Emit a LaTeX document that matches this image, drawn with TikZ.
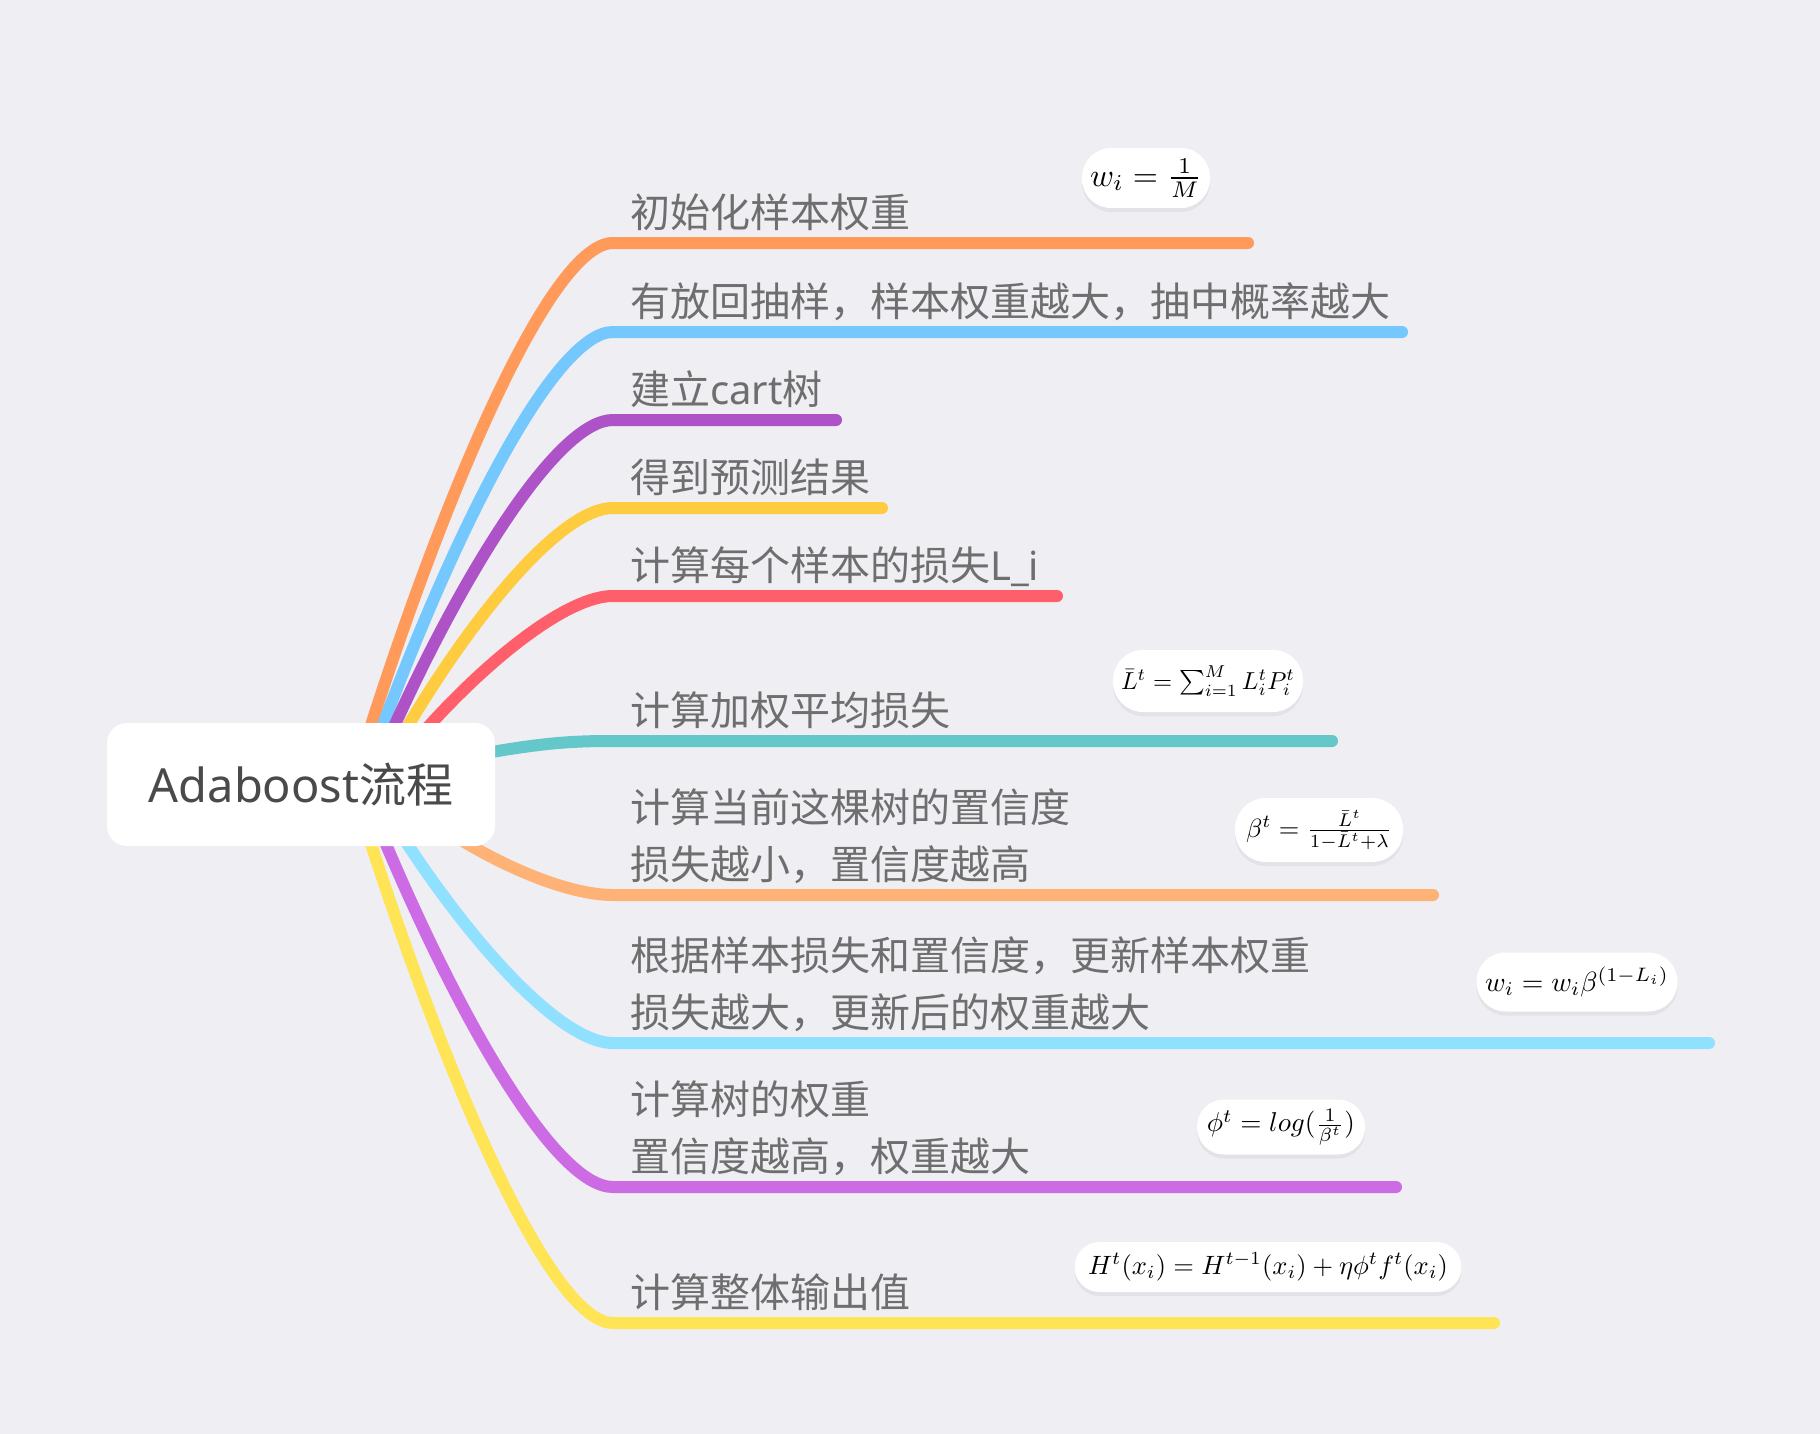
\documentclass[tikz,border=0pt]{standalone}
\usepackage[no-math]{fontspec}
\setmainfont{Noto Sans CJK SC}
\newfontfamily\latinf{Noto Sans}
\usetikzlibrary{calc,shadows}
\definecolor{bgc}{HTML}{EEEEF3}
\definecolor{lblc}{HTML}{6E6E6E}
\definecolor{rootc}{HTML}{4A4A4A}
\definecolor{ca}{HTML}{FF9A5B}
\definecolor{cb}{HTML}{74C8FE}
\definecolor{cc}{HTML}{AE52C7}
\definecolor{cd}{HTML}{FFCC3F}
\definecolor{ce}{HTML}{FF5F6B}
\definecolor{cf}{HTML}{64C7CA}
\definecolor{cg}{HTML}{FFB276}
\definecolor{ch}{HTML}{8FE1FF}
\definecolor{ci}{HTML}{CD6BE4}
\definecolor{cj}{HTML}{FFE556}
\pgfdeclarelayer{bglayer}
\pgfdeclarelayer{curves}
\pgfsetlayers{bglayer,curves,main}
\begin{document}
\begin{tikzpicture}[x=1pt,y=-1pt,
  br/.style={line width=12pt, line cap=round, line join=round},
  lbl/.style={anchor=base west, inner sep=0pt, font=\fontsize{40}{57}\selectfont, text=lblc, align=left},
  fbox/.style={fill=white, inner sep=0pt, drop shadow={shadow xshift=0pt, shadow yshift=-4pt, opacity=0.10}},
  rootbox/.style={fill=white, rounded corners=20pt, minimum width=388pt, minimum height=123pt, inner sep=0pt, text=rootc, font=\fontsize{47}{50}\selectfont}]
\useasboundingbox (0,0) rectangle (1820,1434);
\begin{pgfonlayer}{bglayer}
\fill[bgc] (0,0) rectangle (1820,1434);
\end{pgfonlayer}

\node[rootbox] (root) at (301,784.5) {{\latinf Adaboost}流程};

% exit points on the root
\coordinate (o1) at ($(root.north west)+(265,0)$);
\coordinate (o2) at ($(root.north west)+(277,0)$);
\coordinate (o3) at ($(root.north west)+(289,0)$);
\coordinate (o4) at ($(root.north west)+(303,0)$);
\coordinate (o5) at ($(root.north west)+(325,0)$);
\coordinate (o6) at ($(root.east)+(-35,-27)$);
\coordinate (o7) at ($(root.south east)+(-65,-26)$);
\coordinate (o8) at ($(root.south west)+(302,0)$);
\coordinate (o9) at ($(root.south west)+(280,0)$);
\coordinate (o10) at ($(root.south west)+(265,0)$);
% controls
\coordinate (k1) at (452,474);  \coordinate (m1) at (553,243);
\coordinate (k2) at (460,520);  \coordinate (m2) at (556,332);
\coordinate (k3) at (468,565);  \coordinate (m3) at (559,420);
\coordinate (k4) at (477,611);  \coordinate (m4) at (562,508);
\coordinate (k5) at (492,657);  \coordinate (m5) at (568,596);
\coordinate (k6) at (530,745);  \coordinate (m6) at (560,741);
\coordinate (k7) at (500,868);  \coordinate (m7) at (570,895);
\coordinate (k8) at (476,948);  \coordinate (m8) at (562,1043);
\coordinate (k9) at (462,1023); \coordinate (m9) at (556,1187);
\coordinate (k10) at (452,1094); \coordinate (m10) at (553,1323);
% branch starts and ends
\coordinate (b1) at (613,243);  \coordinate (e1) at (1248,243);
\coordinate (b2) at (613,332);  \coordinate (e2) at (1402,332);
\coordinate (b3) at (613,420);  \coordinate (e3) at (836,420);
\coordinate (b4) at (613,508);  \coordinate (e4) at (882,508);
\coordinate (b5) at (613,596);  \coordinate (e5) at (1057,596);
\coordinate (b6) at (610,741);  \coordinate (e6) at (1332,741);
\coordinate (b7) at (613,895);  \coordinate (e7) at (1433,895);
\coordinate (b8) at (613,1043); \coordinate (e8) at (1709,1043);
\coordinate (b9) at (613,1187); \coordinate (e9) at (1396,1187);
\coordinate (b10) at (613,1323); \coordinate (e10) at (1494,1323);

\begin{pgfonlayer}{curves}
\draw[br,ca] ($(o1)!-0.25!(k1)$) -- (o1) .. controls (k1) and (m1) .. (b1) -- (e1);
\draw[br,cb] ($(o2)!-0.25!(k2)$) -- (o2) .. controls (k2) and (m2) .. (b2) -- (e2);
\draw[br,cc] ($(o3)!-0.25!(k3)$) -- (o3) .. controls (k3) and (m3) .. (b3) -- (e3);
\draw[br,cd] ($(o4)!-0.25!(k4)$) -- (o4) .. controls (k4) and (m4) .. (b4) -- (e4);
\draw[br,ce] ($(o5)!-0.25!(k5)$) -- (o5) .. controls (k5) and (m5) .. (b5) -- (e5);
\draw[br,cf] (o6) .. controls (k6) and (m6) .. (b6) -- (e6);
\draw[br,cg] (o7) .. controls (k7) and (m7) .. (b7) -- (e7);
\draw[br,ch] ($(o8)!-0.25!(k8)$) -- (o8) .. controls (k8) and (m8) .. (b8) -- (e8);
\draw[br,ci] ($(o9)!-0.25!(k9)$) -- (o9) .. controls (k9) and (m9) .. (b9) -- (e9);
\draw[br,cj] ($(o10)!-0.25!(k10)$) -- (o10) .. controls (k10) and (m10) .. (b10) -- (e10);
\end{pgfonlayer}

% labels (anchor at the baseline of the last line)
\node[lbl] (l1) at (630,227) {初始化样本权重};
\node[lbl] (l2) at (630,316) {有放回抽样，样本权重越大，抽中概率越大};
\node[lbl] (l3) at (630,404) {建立{\latinf cart}树};
\node[lbl] (l4) at (630,492) {得到预测结果};
\node[lbl] (l5) at (630,580) {计算每个样本的损失{\latinf L\_i}};
\node[lbl] (l6) at (630,725) {计算加权平均损失};
\node[lbl] (l7) at (630,879) {计算当前这棵树的置信度\\损失越小，置信度越高};
\node[lbl] (l8) at (630,1027) {根据样本损失和置信度，更新样本权重\\损失越大，更新后的权重越大};
\node[lbl] (l9) at (630,1171) {计算树的权重\\置信度越高，权重越大};
\node[lbl] (l10) at (630,1307) {计算整体输出值};

% formula bubbles
\node[fbox, minimum width=128pt, minimum height=60pt, rounded corners=29pt] (f1) at (1146,178)
  {\resizebox{112pt}{!}{$w_i=\frac{1}{M}$}};
\node[fbox, minimum width=190pt, minimum height=62pt, rounded corners=30pt] (f2) at (1208,681)
  {\resizebox{174pt}{!}{$\bar{L}^t=\sum_{i=1}^{M}L_i^tP_i^t$}};
\node[fbox, minimum width=168pt, minimum height=64pt, rounded corners=31pt] (f3) at (1319,830)
  {\resizebox{146pt}{!}{$\beta^t=\frac{\bar{L}^t}{1-\bar{L}^t+\lambda}$}};
\node[fbox, minimum width=201pt, minimum height=59pt, rounded corners=29pt] (f4) at (1577,982)
  {\resizebox{184pt}{!}{$w_i=w_i\beta^{(1-L_i)}$}};
\node[fbox, minimum width=168pt, minimum height=55pt, rounded corners=27pt] (f5) at (1281,1127)
  {\resizebox{148pt}{!}{$\phi^t=log(\frac{1}{\beta^t})$}};
\node[fbox, minimum width=387pt, minimum height=50pt, rounded corners=25pt] (f6) at (1268,1267)
  {\resizebox{360pt}{!}{$H^t(x_i)=H^{t-1}(x_i)+\eta\phi^tf^t(x_i)$}};
\end{tikzpicture}
\end{document}
